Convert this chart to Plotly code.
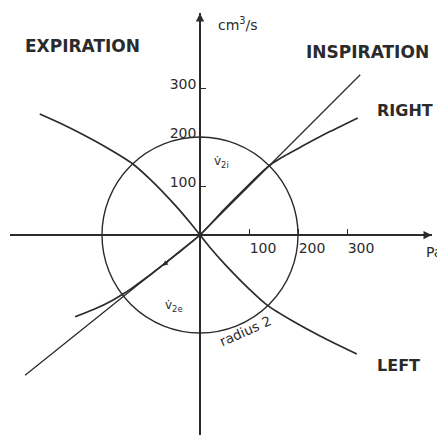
import plotly.graph_objects as go

# --- data (axis units: Pa on x, cm3/s on y) ---------------------------------
X_TICKS = [100, 200, 300]
Y_TICKS = [100, 200, 300]
TICK_LABELS = ["100", "200", "300"]

CIRCLE_RADIUS = 200

# straight inspiration/expiration line through the origin
LINE_X = [-357, 0, 327]
LINE_Y = [-286, 0, 327]

# "RIGHT" lung curve
RIGHT_X = [-255, -215, -180, -153, -130, -100, -50, 0,
           50, 100, 130, 150, 175, 210, 265, 322]
RIGHT_Y = [-167, -151, -134, -118, -102, -80, -41, 0,
           53, 103, 132, 148, 163, 182, 211, 239]

# "LEFT" lung curve
LEFT_X = [-327, -285, -245, -190, -137, -100, -50, -20, 0,
          20, 50, 100, 137, 190, 245, 285, 320]
LEFT_Y = [247, 228, 208, 178, 145, 112, 60, 25, 0,
          -25, -59, -110, -143, -176, -206, -226, -243]

# --- layout helpers (pixel frame of the 445x437 page) -----------------------
PAGE_W, PAGE_H = 445, 437
BODY = 8                   # default page margin around the plot div
W, H = PAGE_W - BODY, PAGE_H - BODY
OX, OY = 200, 235          # origin, page pixels
SCALE = 0.49               # pixels per unit
XAX_PX = (10, 432)         # horizontal axis span
YAX_PX = (13, 435)         # vertical axis span

INK = "#2b2b2b"
FONT = "DejaVu Sans"


def px_to_x(px):
    return (px - OX) / SCALE


def py_to_y(py):
    return (OY - py) / SCALE


def paper_x(px):
    return (px - BODY) / W


def paper_y(py):
    return 1 - (py - BODY) / H


fig = go.Figure()

fig.add_trace(go.Scatter(
    x=LINE_X, y=LINE_Y, mode="lines",
    line=dict(color=INK, width=1.3), hoverinfo="skip", showlegend=False,
))
fig.add_trace(go.Scatter(
    x=RIGHT_X, y=RIGHT_Y, mode="lines", line_shape="spline",
    line=dict(color=INK, width=1.7, smoothing=0.8),
    hoverinfo="skip", showlegend=False,
))
fig.add_trace(go.Scatter(
    x=LEFT_X, y=LEFT_Y, mode="lines", line_shape="spline",
    line=dict(color=INK, width=1.7, smoothing=0.8),
    hoverinfo="skip", showlegend=False,
))

fig.add_shape(
    type="circle", xref="x", yref="y",
    x0=-CIRCLE_RADIUS, y0=-CIRCLE_RADIUS, x1=CIRCLE_RADIUS, y1=CIRCLE_RADIUS,
    line=dict(color=INK, width=1.4),
)

x_range = [px_to_x(XAX_PX[0]), px_to_x(XAX_PX[1])]
y_range = [py_to_y(YAX_PX[1]), py_to_y(YAX_PX[0])]

# axis arrowheads
fig.add_annotation(x=x_range[1] - 0.5, y=0, xref="x", yref="y", ax=-13, ay=0,
                   text="", showarrow=True, arrowhead=2, arrowsize=1.1,
                   arrowwidth=1.5, arrowcolor=INK)
fig.add_annotation(x=0, y=y_range[1] - 0.5, xref="x", yref="y", ax=0, ay=13,
                   text="", showarrow=True, arrowhead=2, arrowsize=1.1,
                   arrowwidth=1.5, arrowcolor=INK)
# small direction arrow on the expiration branch
fig.add_annotation(x=-76, y=-63, xref="x", yref="y", ax=7, ay=-6,
                   text="", showarrow=True, arrowhead=2, arrowsize=0.8,
                   arrowwidth=1.3, arrowcolor=INK)


def label(text, px, py, size=13, bold=False, anchor="center", angle=0):
    fig.add_annotation(
        x=paper_x(px), y=paper_y(py), xref="paper", yref="paper",
        text=f"<b>{text}</b>" if bold else text, showarrow=False,
        xanchor=anchor, yanchor="middle", textangle=angle,
        font=dict(family=FONT, size=size, color=INK),
    )


label("EXPIRATION", 82, 46, size=17, bold=True)
label("INSPIRATION", 367, 52, size=17, bold=True)
label("RIGHT", 405, 111, size=16, bold=True)
label("LEFT", 398, 365, size=16, bold=True)
label("cm<sup>3</sup>/s", 216, 24, size=14, anchor="left")
label("Pa", 424, 252, size=14, anchor="left")
label("v̇<sub>2i</sub>", 221, 162, size=12)
label("v̇<sub>2e</sub>", 174, 306, size=12)
label("radius 2", 245, 331, size=13.5, angle=-24)

fig.update_layout(
    width=W, height=H,
    margin=dict(l=0, r=0, t=0, b=0),
    paper_bgcolor="white", plot_bgcolor="white",
    xaxis=dict(
        domain=[paper_x(XAX_PX[0]), paper_x(XAX_PX[1])], range=x_range,
        anchor="free", position=paper_y(OY),
        showline=True, linecolor=INK, linewidth=1.5,
        showgrid=False, zeroline=False,
        tickvals=X_TICKS, ticktext=TICK_LABELS,
        ticks="inside", ticklen=5, tickcolor=INK, tickwidth=1.2,
        ticklabelshift=14,
        tickfont=dict(family=FONT, size=14, color=INK),
    ),
    yaxis=dict(
        domain=[paper_y(YAX_PX[1]), paper_y(YAX_PX[0])], range=y_range,
        anchor="free", position=paper_x(OX),
        showline=True, linecolor=INK, linewidth=1.5,
        showgrid=False, zeroline=False,
        tickvals=Y_TICKS, ticktext=TICK_LABELS,
        ticks="inside", ticklen=5, tickcolor=INK, tickwidth=1.2,
        ticklabelshift=-4, ticklabelstandoff=0,
        tickfont=dict(family=FONT, size=14, color=INK),
    ),
)

fig.write_html("out.html")
